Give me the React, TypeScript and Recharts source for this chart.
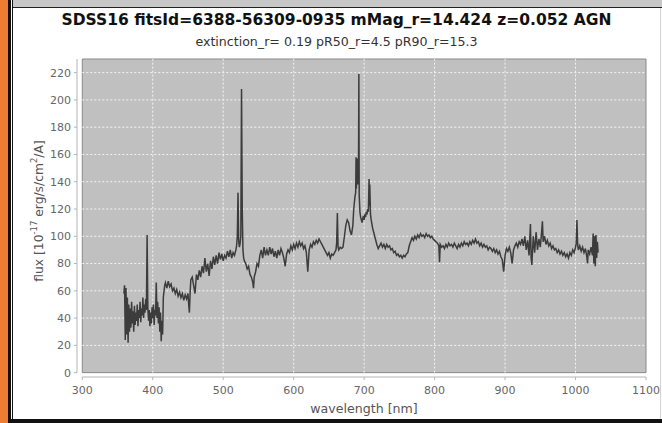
import React from 'react';
import { LineChart, Line, XAxis, YAxis, ReferenceArea, ReferenceLine } from 'recharts';

// wavelength [nm] of each sample
const wavelengthNm = [
  359, 360, 361, 362, 363, 364, 365, 366, 367, 368, 369, 370,
  371, 372, 373, 374, 375, 376, 377, 378, 379, 380, 381, 382,
  383, 384, 385, 386, 387, 388, 389, 390, 391, 392, 393, 394,
  395, 396, 397, 398, 399, 400, 401, 402, 403, 404, 405, 406,
  407, 408, 409, 410, 411, 412, 413, 414, 415, 416, 417, 418,
  420, 422, 424, 426, 428, 430, 432, 434, 436, 438, 440, 442,
  444, 446, 448, 450, 451, 452, 453, 454, 456, 458, 460, 462,
  464, 466, 468, 470, 472, 474, 476, 478, 480, 482, 484, 486,
  488, 490, 492, 494, 496, 498, 500, 502, 504, 506, 508, 510,
  512, 514, 516, 518, 519, 520, 521, 522, 523, 524, 525, 526,
  527, 528, 529, 530, 532, 534, 536, 538, 540, 542, 543, 544,
  546, 548, 550, 552, 554, 556, 558, 560, 562, 564, 566, 568,
  570, 572, 574, 576, 578, 580, 582, 584, 586, 588, 590, 592,
  594, 596, 598, 600, 602, 604, 606, 608, 610, 612, 614, 616,
  618, 620, 622, 624, 626, 628, 630, 632, 634, 636, 638, 640,
  642, 644, 646, 648, 650, 652, 654, 656, 658, 660, 661, 662,
  663, 664, 666, 668, 670, 672, 674, 676, 678, 680, 682, 684,
  685, 686, 687, 688, 688.5, 689, 689.5, 690, 690.5, 691, 691.5, 692,
  692.5, 693, 694, 695, 696, 697, 698, 699, 700, 701, 702, 703,
  704, 705, 706, 707, 707.5, 708, 709, 710, 712, 714, 716, 718,
  720, 722, 724, 726, 728, 730, 732, 734, 736, 738, 740, 742,
  744, 746, 748, 750, 752, 754, 756, 758, 760, 762, 764, 766,
  768, 770, 772, 774, 776, 778, 780, 782, 784, 786, 788, 790,
  792, 794, 796, 798, 800, 802, 804, 806, 807, 808, 810, 812,
  814, 816, 818, 820, 822, 824, 826, 828, 830, 832, 834, 836,
  838, 840, 842, 844, 846, 848, 850, 852, 854, 856, 858, 860,
  862, 864, 866, 868, 870, 872, 874, 876, 878, 880, 882, 884,
  886, 888, 890, 892, 894, 896, 898, 900, 902, 904, 906, 908,
  910, 912, 914, 916, 918, 920, 922, 924, 926, 928, 930, 932,
  934, 936, 937, 938, 940, 942, 944, 946, 948, 950, 952, 953,
  954, 956, 958, 960, 962, 964, 966, 968, 970, 972, 974, 976,
  978, 980, 982, 984, 986, 988, 990, 992, 994, 996, 998, 1000,
  1001, 1002, 1003, 1004, 1006, 1008, 1010, 1012, 1014, 1016, 1017, 1018,
  1020, 1022, 1024, 1025, 1026, 1027, 1028, 1029, 1030, 1031, 1032,
];

// flux [1e-17 erg/s/cm2/A], same rows as above
const fluxValues = [
  58, 64, 24, 62, 28, 55, 22, 50, 30, 47, 33, 52,
  36, 45, 30, 49, 35, 44, 38, 50, 34, 46, 40, 52,
  37, 47, 42, 55, 40, 50, 44, 54, 46, 101, 48, 38,
  46, 34, 44, 36, 48, 40, 50, 35, 46, 42, 66, 40,
  52, 36, 48, 30, 44, 23, 38, 28, 55, 60, 64, 66,
  62, 67, 63, 65, 60, 62, 58, 61, 56, 59, 55, 58,
  53, 57, 54, 58, 50, 44, 58, 68, 70, 64, 58, 72,
  68, 75, 70, 78, 73, 84, 74, 80, 71, 82, 76, 85,
  79, 86, 80, 88, 83, 87, 82, 86, 84, 89, 85, 90,
  84, 88, 86, 90, 93, 100, 132, 96, 92, 95, 100, 208,
  120, 90, 84, 82, 80, 76, 78, 72, 70, 66, 62, 70,
  74, 80, 78, 86, 90, 84, 92, 86, 90, 86, 92, 87,
  91, 85, 89, 84, 90, 86, 91, 88, 84, 78, 87, 90,
  88, 93, 90, 94, 91, 95, 92, 96, 93, 95, 91, 93,
  88, 74, 90, 94, 92, 96, 94, 97, 95, 98, 96, 94,
  92, 90, 88, 86, 88, 84, 87, 86, 88, 90, 95, 117,
  92, 90, 92, 91, 92, 100, 108, 112, 110, 104, 101, 108,
  118, 124, 129, 132, 158, 135, 156, 140, 157, 138, 155, 145,
  219, 130, 118, 114, 112, 110, 113, 115, 112, 116, 114, 118,
  116, 120, 118, 142, 122, 138, 116, 112, 106, 102, 98, 94,
  91, 93, 95, 92, 94, 91, 94, 92, 93, 90, 91, 88,
  89, 86, 87, 85, 86, 84, 86, 85, 87, 88, 93, 96,
  99, 97, 100, 98, 101, 99, 102, 100, 101, 99, 102, 100,
  101, 99, 100, 98, 97, 96, 95, 93, 81, 94, 92, 93,
  91, 94, 92, 95, 93, 94, 92, 95, 93, 91, 94, 92,
  95, 93, 96, 94, 95, 93, 96, 94, 97, 95, 98, 95,
  96, 93, 95, 92, 94, 92, 93, 90, 92, 91, 89, 91,
  88, 90, 87, 89, 85, 83, 74, 86, 91, 89, 92, 88,
  80, 90, 93, 95, 92, 96, 94, 98, 93, 100, 90, 97,
  86, 109, 84, 79, 100, 88, 103, 90, 98, 92, 104, 111,
  96, 100, 94, 97, 93, 95, 91, 93, 90, 91, 88, 90,
  87, 89, 86, 88, 85, 87, 84, 88, 86, 90, 88, 92,
  95, 112, 94, 90, 93, 89, 92, 88, 91, 85, 80, 90,
  87, 92, 86, 102, 80, 100, 78, 101, 84, 96, 88,
];

const xTicks = [300, 400, 500, 600, 700, 800, 900, 1000, 1100];
const yTicks = [0, 20, 40, 60, 80, 100, 120, 140, 160, 180, 200, 220];
const xGridLines = [400, 500, 600, 700, 800, 900, 1000];
const yGridLines = [20, 40, 60, 80, 100, 120, 140, 160, 180, 200, 220];

// plot box range, and the slightly wider axis range so the axes sit a few px outside it
const X_MIN = 300;
const X_MAX = 1100;
const Y_MIN = 0;
const Y_MAX = 230;
const X_AXIS_MIN = 292.5;
const Y_AXIS_MIN = -3.2;

const spectrum = wavelengthNm.map((w, i) => ({ wavelength: w, flux: fluxValues[i] }));

const FONT = 'DejaVu Sans';

function FluxLabel(props: any) {
  const vb = props.viewBox || { x: 17, y: 59, width: 60, height: 318 };
  const cx = vb.x + 22;
  const cy = vb.y + vb.height / 2 - 7;
  return (
    <text
      x={cx}
      y={cy}
      transform={`rotate(-90 ${cx} ${cy})`}
      textAnchor="middle"
      dominantBaseline="central"
      fill="#555"
      fontSize={12.3}
      fontFamily={FONT}
    >
      flux [10<tspan dy={-5} fontSize={8.5}>-17</tspan>
      <tspan dy={5}> erg/s/cm</tspan>
      <tspan dy={-5} fontSize={8.5}>2</tspan>
      <tspan dy={5}>/A]</tspan>
    </text>
  );
}

function WavelengthLabel(props: any) {
  const vb = props.viewBox || { x: 77, y: 377, width: 569, height: 30 };
  return (
    <text
      x={vb.x + vb.width / 2 + 2.5}
      y={vb.y + 36}
      textAnchor="middle"
      fill="#555"
      fontSize={12.6}
      fontFamily={FONT}
    >
      wavelength [nm]
    </text>
  );
}

export default function App() {
  return (
    <div
      style={{
        position: 'absolute',
        left: 0,
        top: 0,
        width: 662,
        height: 423,
        background: '#fff',
        overflow: 'hidden',
      }}
    >
      {/* window frame bits */}
      <div style={{ position: 'absolute', left: 0, top: 0, width: 8, height: 423, background: '#ee7d31' }} />
      <div style={{ position: 'absolute', left: 8, top: 0, width: 3, height: 423, background: '#111' }} />
      <div style={{ position: 'absolute', left: 12, top: 0, width: 1, height: 423, background: '#111' }} />
      <div
        style={{
          position: 'absolute',
          left: 13,
          top: 0,
          width: 649,
          height: 7,
          backgroundColor: '#f2f2f2',
          backgroundImage: 'radial-gradient(#c4c4c4 0.7px, transparent 0.8px)',
          backgroundSize: '2px 2px',
        }}
      />
      <div style={{ position: 'absolute', left: 13, top: 7, width: 649, height: 1, background: '#222' }} />
      <div style={{ position: 'absolute', left: 660, top: 8, width: 1, height: 411, background: '#d4d4d4' }} />
      <div style={{ position: 'absolute', left: 8, top: 419, width: 654, height: 4, background: '#111' }} />

      <div
        style={{
          position: 'absolute',
          left: 13,
          top: 11,
          width: 647,
          textAlign: 'center',
          fontFamily: FONT,
          fontWeight: 'bold',
          fontSize: 15.5,
          lineHeight: '19px',
          color: '#111',
          whiteSpace: 'nowrap',
        }}
      >
        SDSS16 fitsId=6388-56309-0935 mMag_r=14.424 z=0.052 AGN
      </div>
      <div
        style={{
          position: 'absolute',
          left: 13,
          top: 34,
          width: 647,
          textAlign: 'center',
          fontFamily: FONT,
          fontSize: 12.6,
          lineHeight: '15px',
          color: '#333',
          whiteSpace: 'nowrap',
        }}
      >
        extinction_r= 0.19 pR50_r=4.5 pR90_r=15.3
      </div>

      <div style={{ position: 'absolute', left: 0, top: 0 }}>
        <LineChart
          width={662}
          height={423}
          data={spectrum}
          margin={{ top: 59, right: 16, bottom: 16, left: 17 }}
        >
          <ReferenceArea
            x1={X_MIN}
            x2={X_MAX}
            y1={Y_MIN}
            y2={Y_MAX}
            fill="#c0c0c0"
            fillOpacity={1}
            stroke="#8a8a8a"
            strokeWidth={1}
            zIndex={-300}
          />
          {xGridLines.map((v) => (
            <ReferenceLine
              key={`gx-${v}`}
              segment={[{ x: v, y: Y_MIN }, { x: v, y: Y_MAX }]}
              stroke="#f4f4f4"
              strokeDasharray="2 2"
              zIndex={-200}
            />
          ))}
          {yGridLines.map((v) => (
            <ReferenceLine
              key={`gy-${v}`}
              segment={[{ x: X_MIN, y: v }, { x: X_MAX, y: v }]}
              stroke="#f4f4f4"
              strokeDasharray="2 2"
              zIndex={-200}
            />
          ))}
          {/* offset axis lines */}
          <ReferenceLine
            segment={[{ x: X_MIN, y: Y_AXIS_MIN }, { x: X_MAX, y: Y_AXIS_MIN }]}
            stroke="#b4b4b4"
          />
          <ReferenceLine
            segment={[{ x: X_AXIS_MIN, y: Y_MIN }, { x: X_AXIS_MIN, y: Y_MAX }]}
            stroke="#b4b4b4"
          />
          <XAxis
            type="number"
            dataKey="wavelength"
            domain={[X_AXIS_MIN, X_MAX]}
            ticks={xTicks}
            allowDataOverflow
            height={30}
            axisLine={false}
            tickLine={{ stroke: '#b4b4b4' }}
            tickSize={3}
            tickMargin={6}
            tick={{ fill: '#666', fontSize: 11, fontFamily: FONT }}
            label={<WavelengthLabel />}
          />
          <YAxis
            type="number"
            domain={[Y_AXIS_MIN, Y_MAX]}
            ticks={yTicks}
            allowDataOverflow
            width={60}
            axisLine={false}
            tickLine={{ stroke: '#b4b4b4' }}
            tickSize={3}
            tickMargin={3}
            tick={{ fill: '#666', fontSize: 11, fontFamily: FONT }}
            label={<FluxLabel />}
          />
          <Line
            type="linear"
            dataKey="flux"
            stroke="#3c3c3c"
            strokeWidth={1.5}
            dot={false}
            activeDot={false}
            isAnimationActive={false}
          />
        </LineChart>
      </div>
    </div>
  );
}
